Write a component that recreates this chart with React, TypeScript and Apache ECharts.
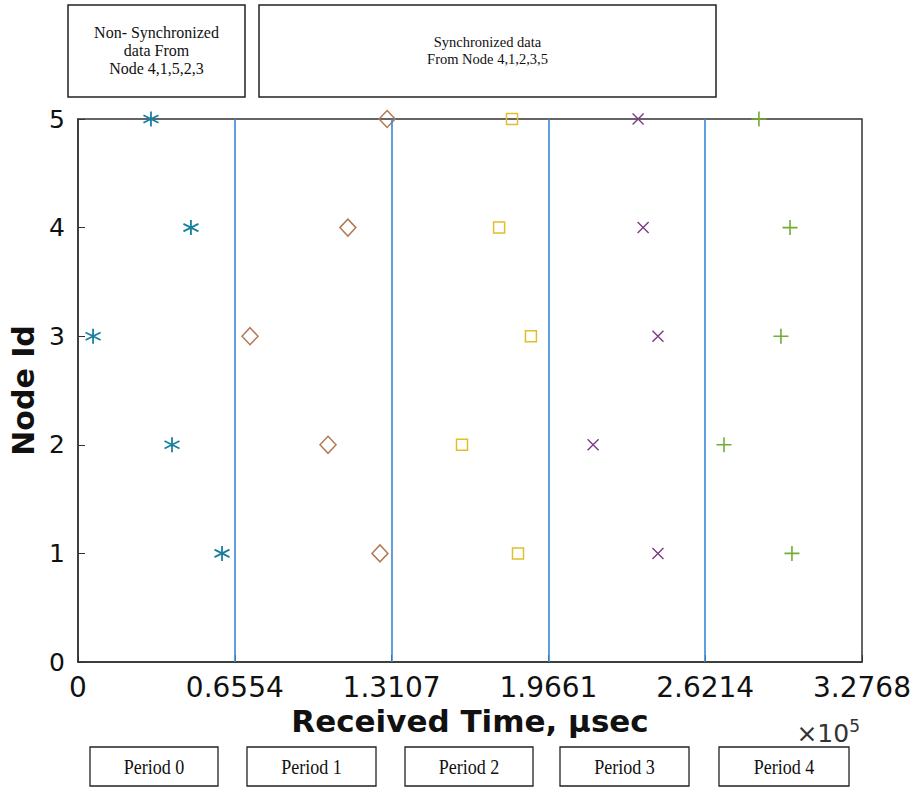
import React, { useEffect, useRef } from "react";
import * as echarts from "echarts";

const nodeIds = [5, 4, 3, 2, 1];
const period0Times = [30500, 47200, 6300, 39300, 60200];
const period1Times = [129200, 112800, 71900, 104500, 126200];
const period2Times = [181400, 176000, 189300, 160500, 183900];
const period3Times = [234100, 236200, 242400, 215300, 242400];
const period4Times = [284600, 297600, 293800, 270000, 298400];

const xTickValues = [0, 65536, 131072, 196608, 262144, 327680];
const xTickLabels = ["0", "0.6554", "1.3107", "1.9661", "2.6214", "3.2768"];
const yTickLabels = ["0", "1", "2", "3", "4", "5"];
const periodBoundaries = [65536, 131072, 196608, 262144];
const periodLabels = ["Period 0", "Period 1", "Period 2", "Period 3", "Period 4"];
const topNotes = [
  "Non- Synchronized\ndata From\nNode 4,1,5,2,3",
  "Synchronized data\nFrom Node 4,1,2,3,5",
];

const ASTERISK = "path://M0,-7L0,7M-6.06,-3.5L6.06,3.5M-6.06,3.5L6.06,-3.5";
const CROSS = "path://M-5,-5L5,5M-5,5L5,-5";
const PLUS = "path://M-6,0L6,0M0,-6L0,6";

const seriesDefs = [
  { data: period0Times, symbol: ASTERISK, size: 15, color: "#17809f", width: 1.8 },
  { data: period1Times, symbol: "diamond", size: [16, 17], color: "#b07a54", width: 1.5 },
  { data: period2Times, symbol: "rect", size: 11, color: "#e2bd2c", width: 1.5 },
  { data: period3Times, symbol: CROSS, size: 11, color: "#7e3a86", width: 1.4 },
  { data: period4Times, symbol: PLUS, size: 15, color: "#72ad33", width: 1.6 },
];

export default function App() {
  const ref = useRef<HTMLDivElement>(null);
  useEffect(() => {
    if (!ref.current) return;
    const chart = echarts.init(ref.current, null, { renderer: "svg" });
    const serif = "'Liberation Serif', 'Times New Roman', serif";
    const sans = "'DejaVu Sans', sans-serif";
    const topBoxes = [
      { x: 68, y: 5, w: 177, h: 92, fs: 16, lh: 18 },
      { x: 259, y: 5, w: 457, h: 92, fs: 14.5, lh: 17 },
    ];
    const bottomBoxes = [
      { x: 90, w: 128 },
      { x: 247, w: 129 },
      { x: 405, w: 128 },
      { x: 560, w: 129 },
      { x: 719, w: 130 },
    ];
    const graphics: any[] = [];
    topBoxes.forEach((b, i) => {
      graphics.push({
        type: "rect",
        shape: { x: b.x, y: b.y, width: b.w, height: b.h },
        style: { fill: "#fff", stroke: "#222", lineWidth: 1.5 },
      });
      graphics.push({
        type: "text",
        x: b.x + b.w / 2,
        y: b.y + b.h / 2 - 1,
        style: {
          text: topNotes[i],
          font: `${b.fs}px ${serif}`,
          fill: "#111",
          align: "center",
          verticalAlign: "middle",
          lineHeight: b.lh,
        },
      });
    });
    bottomBoxes.forEach((b, i) => {
      graphics.push({
        type: "rect",
        shape: { x: b.x, y: 747, width: b.w, height: 39 },
        style: { fill: "#fff", stroke: "#222", lineWidth: 1.3 },
      });
      graphics.push({
        type: "text",
        x: b.x + b.w / 2,
        y: 767,
        scaleX: 0.86,
        style: {
          text: periodLabels[i],
          font: `21px ${serif}`,
          fill: "#111",
          align: "center",
          verticalAlign: "middle",
        },
      });
    });
    graphics.push({
      type: "text",
      x: 860,
      y: 733,
      style: {
        text: "×10{s|5}",
        rich: { s: { fontSize: 17, fontFamily: sans, fill: "#333", verticalAlign: "top", padding: [0, 0, 15, 0] } },
        font: `25px ${sans}`,
        fill: "#333",
        align: "right",
        verticalAlign: "middle",
      },
    });

    const series: any[] = seriesDefs.map((s, idx) => ({
      type: "scatter",
      clip: false,
      symbol: s.symbol,
      symbolSize: s.size,
      data: s.data.map((t, i) => [t, nodeIds[i]]),
      itemStyle: {
        color: "rgba(0,0,0,0)",
        borderColor: s.color,
        borderWidth: s.width,
        opacity: 1,
      },
      z: 3,
      ...(idx === 0
        ? {
            markLine: {
              silent: true,
              symbol: "none",
              label: { show: false },
              lineStyle: { color: "#3a86d8", width: 1.6, type: "solid" },
              data: periodBoundaries.map((v) => ({ xAxis: v })),
            },
          }
        : {}),
    }));

    chart.setOption({
      animation: false,
      backgroundColor: "#fff",
      grid: {
        left: 78,
        right: 58,
        top: 119,
        bottom: 126,
        show: true,
        borderColor: "#333",
        borderWidth: 1.5,
        backgroundColor: "transparent",
      },
      xAxis: {
        type: "value",
        min: 0,
        max: 327680,
        interval: 65536,
        name: "Received Time, µsec",
        nameLocation: "middle",
        nameGap: 42,
        nameTextStyle: { fontFamily: sans, fontWeight: "bold", fontSize: 31, color: "#111" },
        axisLine: { show: true, onZero: false, lineStyle: { color: "#333", width: 1.5 } },
        axisTick: { show: true, inside: true, length: 7, lineStyle: { color: "#333" } },
        splitLine: { show: false },
        axisLabel: {
          margin: 11,
          fontFamily: sans,
          fontSize: 28,
          color: "#111",
          formatter: (v: number) => {
            const i = xTickValues.findIndex((t) => Math.abs(t - v) < 1);
            return i >= 0 ? xTickLabels[i] : "";
          },
        },
      },
      yAxis: {
        type: "value",
        min: 0,
        max: 5,
        interval: 1,
        name: "Node Id",
        nameLocation: "middle",
        nameGap: 30,
        nameTextStyle: { fontFamily: sans, fontWeight: "bold", fontSize: 30, color: "#111" },
        axisLine: { show: true, lineStyle: { color: "#333", width: 1.5 } },
        axisTick: { show: true, inside: true, length: 7, lineStyle: { color: "#333" } },
        splitLine: { show: false },
        axisLabel: {
          margin: 13,
          fontFamily: sans,
          fontSize: 25,
          color: "#111",
          formatter: (v: number) => yTickLabels[Math.round(v)] ?? "",
        },
      },
      graphic: graphics,
      series,
    });
    return () => chart.dispose();
  }, []);
  return (
    <div
      ref={ref}
      style={{ position: "fixed", left: 0, top: 0, width: 920, height: 788, background: "#fff" }}
    />
  );
}
